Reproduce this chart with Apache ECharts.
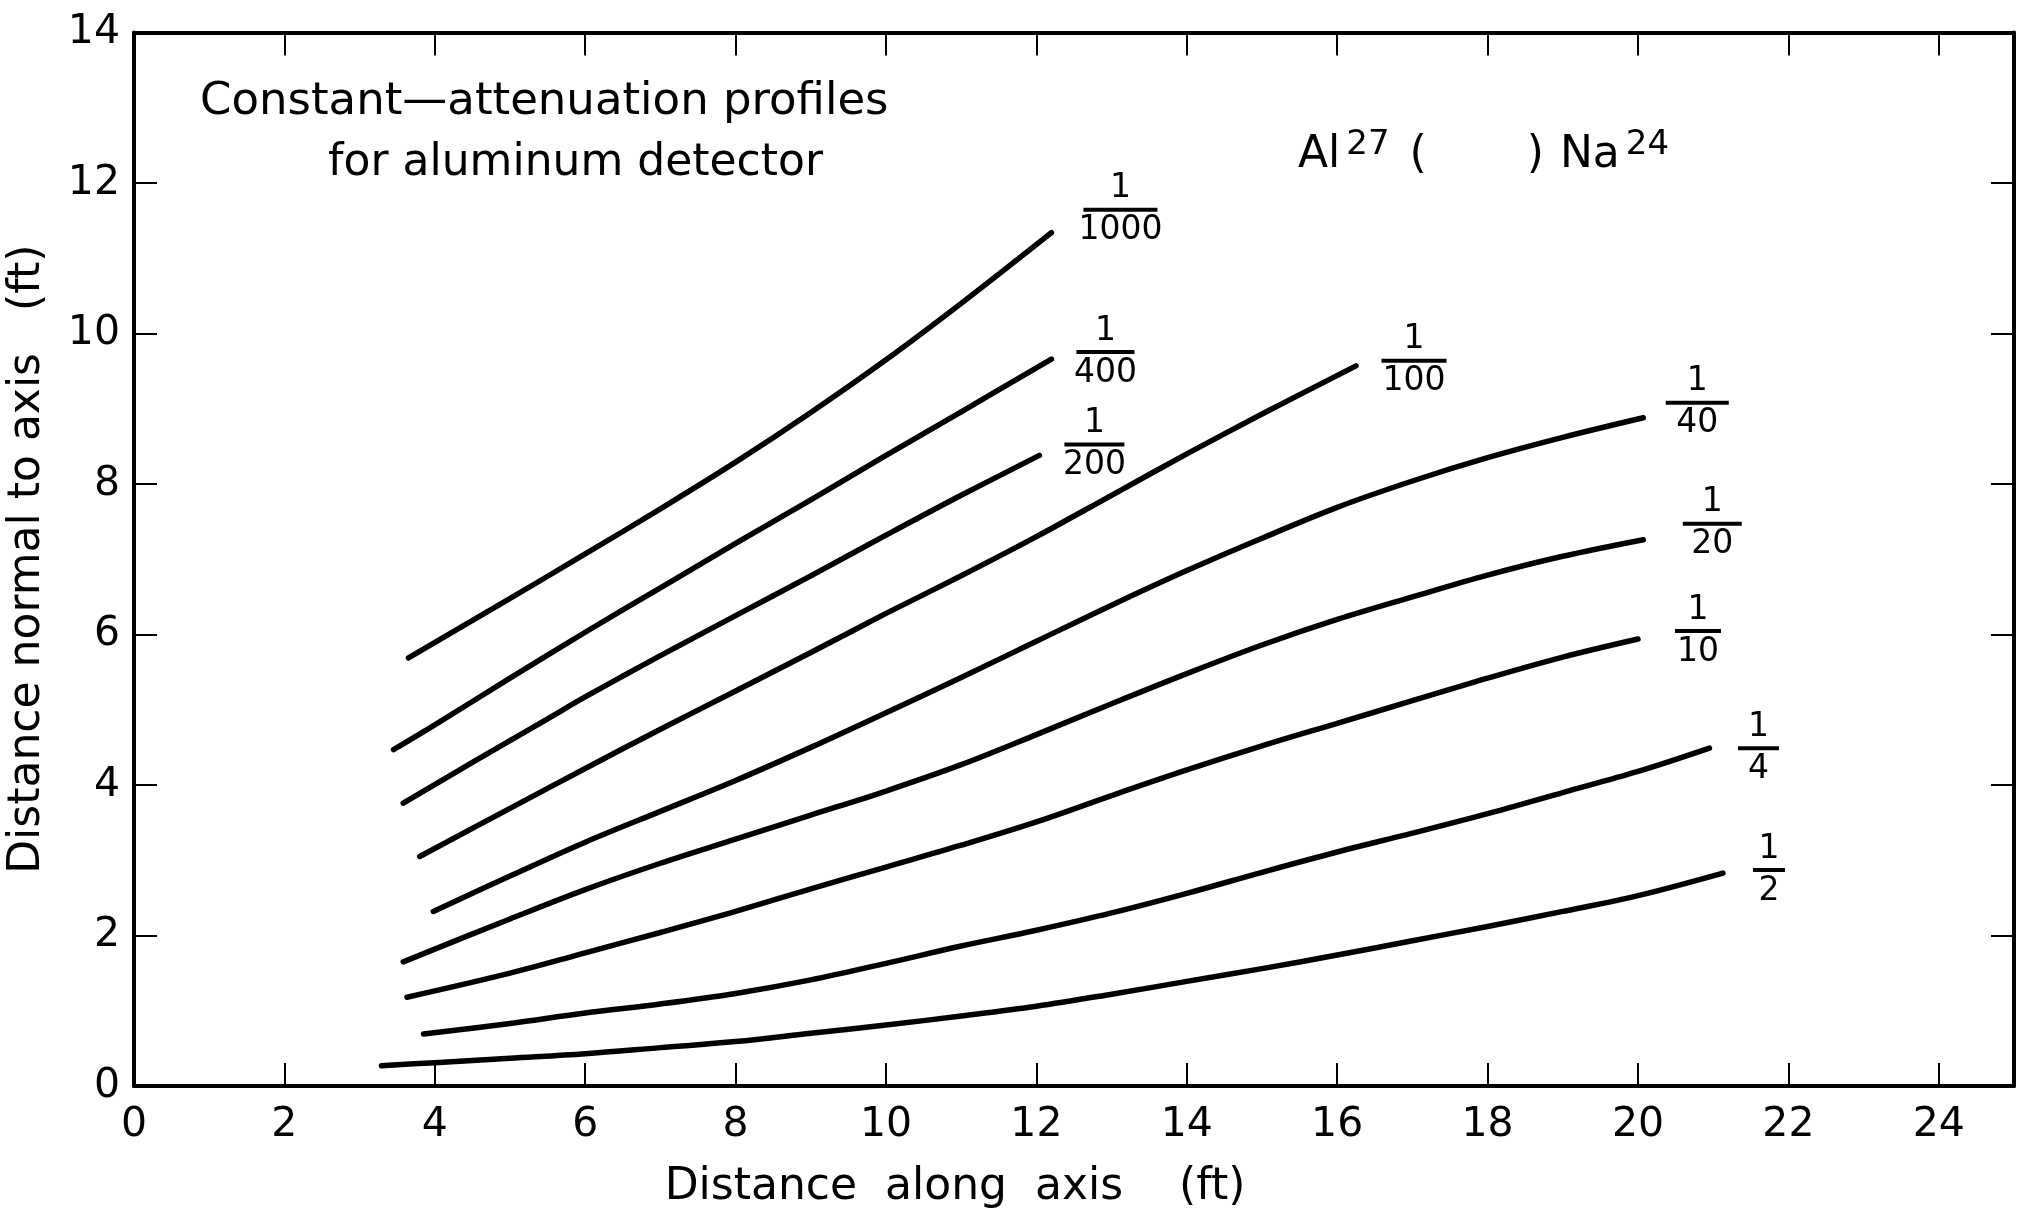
<!DOCTYPE html>
<html>
<head>
<meta charset="utf-8">
<script src="https://cdn.jsdelivr.net/npm/echarts@6/dist/echarts.min.js"></script>
<style>
html,body{margin:0;padding:0;background:#fff}
#chart{width:2019px;height:1210px}
</style>
</head>
<body>
<div id="chart"></div>
<script>
// ---- Data ----
const xTickLabels = [0, 2, 4, 6, 8, 10, 12, 14, 16, 18, 20, 22, 24];
const yTickLabels = [0, 2, 4, 6, 8, 10, 12, 14];

const curveDenominators = ['1000', '400', '200', '100', '40', '20', '10', '4', '2'];

const c1000 = [[3.65,5.69],[4.9,6.42],[6,7.07],[7,7.67],[8,8.29],[9,8.95],[10,9.65],[11,10.4],[12.2,11.34]];
const c400  = [[3.45,4.47],[4,4.8],[5,5.42],[6,6.03],[7,6.62],[8,7.21],[9,7.79],[10,8.38],[11,8.96],[12.2,9.66]];
const c200  = [[3.58,3.76],[4.5,4.3],[5.5,4.88],[6,5.17],[7,5.72],[8,6.25],[9,6.78],[10,7.32],[11,7.85],[12.04,8.38]];
const c100  = [[3.8,3.05],[5,3.69],[6,4.22],[7,4.74],[8,5.25],[9,5.76],[10,6.28],[11,6.78],[12,7.3],[13,7.85],[14,8.4],[15,8.93],[16.25,9.57]];
const c40   = [[3.98,2.32],[5,2.79],[6,3.24],[7,3.65],[8,4.06],[9,4.5],[10,4.96],[11,5.43],[12,5.91],[13,6.39],[14,6.85],[15,7.28],[16,7.69],[17,8.04],[18,8.35],[19,8.62],[20.07,8.88]];
const c20   = [[3.58,1.65],[5,2.22],[6,2.61],[7,2.96],[8,3.28],[9,3.6],[10,3.92],[11,4.27],[12,4.67],[13,5.08],[14,5.48],[15,5.86],[16,6.2],[17,6.5],[18,6.79],[19,7.04],[20.07,7.26]];
const c10   = [[3.63,1.18],[5,1.5],[6,1.77],[7,2.04],[8,2.32],[9,2.62],[10,2.91],[11,3.2],[12,3.51],[13,3.86],[14,4.2],[15,4.52],[16,4.82],[17,5.12],[18,5.42],[19,5.7],[20,5.94]];
const c4    = [[3.85,0.69],[5,0.83],[6,0.97],[7,1.09],[8,1.23],[9,1.41],[10,1.63],[11,1.86],[12,2.07],[13,2.3],[14,2.56],[15,2.84],[16,3.11],[17,3.36],[18,3.62],[19,3.9],[20,4.18],[20.95,4.49]];
const c2    = [[3.29,0.27],[4,0.31],[5,0.37],[6,0.43],[7,0.51],[8,0.59],[9,0.7],[10,0.81],[11,0.93],[12,1.06],[13,1.22],[14,1.39],[15,1.56],[16,1.74],[17,1.93],[18,2.12],[19,2.32],[20,2.53],[21.13,2.83]];

const curves = [c1000, c400, c200, c100, c40, c20, c10, c4, c2];

// ---- Layout / style (not data) ----
const FONT = "'DejaVu Sans', 'Liberation Sans', sans-serif";
const labelLayout = {
  '1000': { offset: [69, -23], bar: 74 },
  '400':  { offset: [54, -7],  bar: 58 },
  '200':  { offset: [55, -11], bar: 60 },
  '100':  { offset: [58, -5],  bar: 65 },
  '40':   { offset: [54, -15], bar: 63 },
  '20':   { offset: [69, -16], bar: 59 },
  '10':   { offset: [60, -8],  bar: 46 },
  '4':    { offset: [49, 0],   bar: 41 },
  '2':    { offset: [46, -3],  bar: 32 }
};

const xMin = xTickLabels[0], xStep = xTickLabels[1] - xTickLabels[0];
const yMin = yTickLabels[0], yStep = yTickLabels[1] - yTickLabels[0];
const yMax = yTickLabels[yTickLabels.length - 1];

function axisLine() { return { show: true, onZero: false, lineStyle: { color: '#000', width: 4 } }; }
function tickStyle() { return { show: true, inside: true, length: 23, lineStyle: { color: '#000', width: 2 } }; }

const series = curves.map((pts, i) => {
  const den = curveDenominators[i];
  const lay = labelLayout[den];
  return {
    type: 'line',
    name: '1/' + den,
    data: pts,
    showSymbol: false,
    symbol: 'none',
    smooth: 0.35,
    silent: true,
    lineStyle: { color: '#000', width: 5.5, cap: 'round', join: 'round' },
    emphasis: { disabled: true },
    endLabel: {
      show: true,
      distance: 0,
      align: 'center',
      verticalAlign: 'middle',
      offset: lay.offset,
      formatter: '{n|1}\n{b|}\n{d|' + den + '}',
      rich: {
        n: { fontSize: 33, fontFamily: FONT, color: '#000', lineHeight: 30, align: 'center' },
        b: { width: lay.bar, height: 4, lineHeight: 12, backgroundColor: '#000', align: 'center' },
        d: { fontSize: 33, fontFamily: FONT, color: '#000', lineHeight: 30, align: 'center' }
      }
    }
  };
});

const chart = echarts.init(document.getElementById('chart'), null, { renderer: 'canvas' });
chart.setOption({
  backgroundColor: '#fff',
  animation: false,
  title: [
    { text: 'Constant\u2014attenuation profiles', left: 200, top: 80, padding: 0,
      textStyle: { fontSize: 45, fontWeight: 'normal', fontFamily: FONT, color: '#000' } },
    { text: 'for aluminum detector', left: 328, top: 142, padding: 0,
      textStyle: { fontSize: 44, fontWeight: 'normal', fontFamily: FONT, color: '#000' } }
  ],
  grid: { left: 134, top: 32.5, right: 5, bottom: 124, containLabel: false, outerBoundsMode: 'none' },
  xAxis: [
    {
      type: 'value', min: xMin, max: 25, interval: xStep, position: 'bottom',
      axisLine: axisLine(),
      axisTick: tickStyle(),
      splitLine: { show: false },
      axisLabel: { margin: 19, fontSize: 41, fontFamily: FONT, color: '#000', showMaxLabel: false,
        formatter: v => (xTickLabels.indexOf(v) >= 0 ? String(v) : '') },
      name: 'Distance  along  axis    (ft)',
      nameLocation: 'middle', nameGap: 80,
      nameTextStyle: { fontSize: 44, fontFamily: FONT, color: '#000', padding: [0, 238, 0, 0] }
    },
    {
      type: 'value', min: xMin, max: 25, interval: xStep, position: 'top',
      axisLine: axisLine(),
      axisTick: tickStyle(),
      splitLine: { show: false },
      axisLabel: { show: false }
    }
  ],
  yAxis: [
    {
      type: 'value', min: yMin, max: yMax, interval: yStep, position: 'left',
      axisLine: axisLine(),
      axisTick: tickStyle(),
      splitLine: { show: false },
      axisLabel: { margin: 14, fontSize: 41, fontFamily: FONT, color: '#000',
        formatter: v => (yTickLabels.indexOf(v) >= 0 ? String(v) : '') },
      name: 'Distance normal to axis   (ft)',
      nameLocation: 'middle', nameGap: 84,
      nameTextStyle: { fontSize: 44, fontFamily: FONT, color: '#000' }
    },
    {
      type: 'value', min: yMin, max: yMax, interval: yStep, position: 'right',
      axisLine: axisLine(),
      axisTick: tickStyle(),
      splitLine: { show: false },
      axisLabel: { show: false }
    }
  ],
  graphic: [
    {
      type: 'text', x: 1298, y: 156, silent: true,
      style: {
        text: '{n|Al}{s|27}{p|(}{g|}{n|)}{q|Na}{s|24}',
        verticalAlign: 'middle',
        fontFamily: FONT, fontSize: 44, fill: '#000',
        rich: {
          n: { fontFamily: FONT, fontSize: 44, lineHeight: 56, fill: '#000' },
          s: { fontFamily: FONT, fontSize: 34, lineHeight: 34, verticalAlign: 'top', padding: [0, 0, 0, 6], fill: '#000' },
          p: { fontFamily: FONT, fontSize: 44, lineHeight: 56, padding: [0, 0, 0, 20], fill: '#000' },
          q: { fontFamily: FONT, fontSize: 44, lineHeight: 56, padding: [0, 0, 0, 16], fill: '#000' },
          g: { width: 100, lineHeight: 56 }
        }
      }
    }
  ],
  series: series
});
</script>
</body>
</html>
